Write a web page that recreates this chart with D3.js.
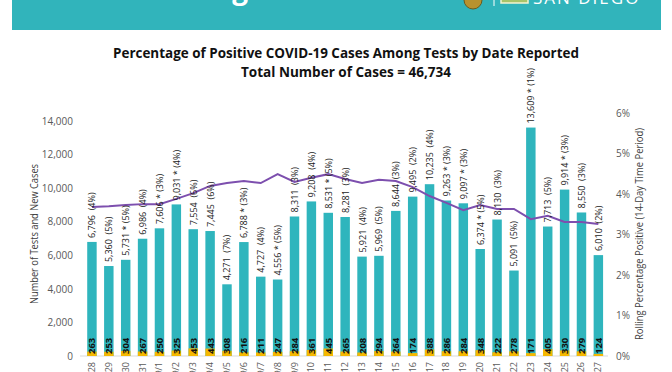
<!DOCTYPE html>
<html>
<head>
<meta charset="utf-8">
<script src="https://cdn.jsdelivr.net/npm/d3@7"></script>
<style>
  body { margin: 0; background: #fff; }
  text { font-family: "Open Sans", "Liberation Sans", sans-serif; }
  .barLabel { white-space: pre; }
</style>
</head>
<body>
<div id="chart"></div>
<script>
// data
var dates = ["8/28","8/29","8/30","8/31","9/1","9/2","9/3","9/4","9/5","9/6","9/7","9/8","9/9","9/10","9/11","9/12",
  "9/13","9/14","9/15","9/16","9/17","9/18","9/19","9/20","9/21","9/22","9/23","9/24","9/25","9/26","9/27"];
var tests = [6796,5360,5731,6986,7606,9031,7554,7445,4271,6788,4727,4556,8311,9208,8531,8281,
  5921,5969,8644,9495,10235,9263,9097,6374,8130,5091,13609,7713,9914,8550,6010];
var cases = [263,253,304,267,250,325,453,443,308,216,211,247,284,361,445,265,
  208,294,264,174,388,286,284,348,222,278,171,405,330,279,124];
var pctLabels = [4,5,5,4,3,4,6,6,7,3,4,5,3,4,5,3,4,5,3,2,4,3,3,5,3,5,1,5,3,3,2];
var starred = [0,0,1,0,1,1,0,0,0,1,0,1,0,0,1,0,0,0,0,0,0,1,1,1,0,0,1,0,1,0,0];
// rolling 14-day percent positive
var rolling = [3.68,3.70,3.73,3.75,3.75,3.88,4.02,4.20,4.27,4.32,4.27,4.49,4.30,4.40,4.49,4.37,
  4.27,4.35,4.32,4.17,3.95,3.78,3.60,3.73,3.63,3.63,3.38,3.46,3.31,3.31,3.26];
var leftTicks = [0,2000,4000,6000,8000,10000,12000,14000];
var rightTicks = [0,1,2,3,4,5,6];

var svgWidth = 672;
var svgHeight = 372;

var svg = d3.select("#chart")
  .append("svg")
  .attr("width", svgWidth)
  .attr("height", svgHeight);

svg.append("rect").attr("width", svgWidth).attr("height", svgHeight).attr("fill", "#fff");

// header band (cut off at top)
svg.append("rect")
  .attr("x", 12).attr("y", 0)
  .attr("width", 649).attr("height", 30)
  .attr("fill", "#31b4bb");
svg.append("text")
  .attr("x", 248).attr("y", -1)
  .attr("text-anchor", "end")
  .attr("fill", "#fff")
  .style("font-size", "28px").style("font-weight", "bold")
  .text("Testing");
svg.append("circle")
  .attr("cx", 473).attr("cy", 0).attr("r", 9)
  .attr("fill", "#b8922e").attr("stroke", "#6b5a1e").attr("stroke-width", 1);
svg.append("line")
  .attr("x1", 494).attr("x2", 494).attr("y1", 0).attr("y2", 6)
  .attr("stroke", "#fff").attr("stroke-width", 1);
svg.append("rect")
  .attr("x", 501).attr("y", -6).attr("width", 27).attr("height", 9)
  .attr("fill", "#a8c46a").attr("stroke", "#f4f4d0").attr("stroke-width", 1.5);
svg.append("text")
  .attr("x", 533).attr("y", 4)
  .attr("fill", "#fff")
  .style("font-size", "17px")
  .style("letter-spacing", "2px")
  .text("SAN DIEGO");

// titles
svg.append("text")
  .attr("x", 346).attr("y", 58)
  .attr("text-anchor", "middle")
  .attr("textLength", 466).attr("lengthAdjust", "spacingAndGlyphs")
  .style("font-size", "14px").style("font-weight", "bold")
  .attr("fill", "#111")
  .text("Percentage of Positive COVID-19 Cases Among Tests by Date Reported");
svg.append("text")
  .attr("x", 346).attr("y", 77)
  .attr("text-anchor", "middle")
  .attr("textLength", 210).attr("lengthAdjust", "spacingAndGlyphs")
  .style("font-size", "14px").style("font-weight", "bold")
  .attr("fill", "#111")
  .text("Total Number of Cases = 46,734");

// scales
var x = d3.scaleBand()
  .domain(dates)
  .range([83.5, 606.8])
  .paddingInner(0.44)
  .paddingOuter(0.22);

var yLeft = d3.scaleLinear().domain([0, 14000]).range([356, 121]);
var yRight = d3.scaleLinear().domain([0, 6]).range([356, 113]);

// axes
var leftAxis = d3.axisLeft(yLeft)
  .tickValues(leftTicks)
  .tickSize(0)
  .tickPadding(0)
  .tickFormat(d3.format(","));
var gLeft = svg.append("g")
  .attr("transform", "translate(73,0)")
  .call(leftAxis);
gLeft.select(".domain").remove();
gLeft.selectAll("text")
  .attr("fill", "#595959")
  .style("font-size", "10px")
  .style("font-family", "'Open Sans', sans-serif");

var rightAxis = d3.axisRight(yRight)
  .tickValues(rightTicks)
  .tickSize(0)
  .tickPadding(0)
  .tickFormat(d => d + "%");
var gRight = svg.append("g")
  .attr("transform", "translate(616,0)")
  .call(rightAxis);
gRight.select(".domain").remove();
gRight.selectAll("text")
  .attr("fill", "#595959")
  .style("font-size", "10px")
  .style("font-family", "'Open Sans', sans-serif");

// baseline
svg.append("line")
  .attr("x1", 80).attr("x2", 608)
  .attr("y1", yLeft(0)).attr("y2", yLeft(0))
  .attr("stroke", "#d9d9d9").attr("stroke-width", 1);

// axis titles
svg.append("text")
  .attr("transform", `translate(38, 234) rotate(-90)`)
  .attr("text-anchor", "middle")
  .attr("fill", "#404040")
  .style("font-size", "10px")
  .attr("textLength", 140).attr("lengthAdjust", "spacingAndGlyphs")
  .text("Number of Tests and New Cases");
svg.append("text")
  .attr("transform", `translate(643, 234) rotate(-90)`)
  .attr("text-anchor", "middle")
  .attr("fill", "#404040")
  .style("font-size", "10px")
  .attr("textLength", 212).attr("lengthAdjust", "spacingAndGlyphs")
  .text("Rolling Percentage Positive (14-Day Time Period)");

var idx = d3.range(dates.length);

// tests bars
svg.append("g").selectAll("rect")
  .data(idx)
  .join("rect")
  .attr("x", i => x(dates[i]))
  .attr("width", x.bandwidth())
  .attr("y", i => yLeft(tests[i]))
  .attr("height", i => yLeft(0) - yLeft(tests[i]))
  .attr("fill", "#2fb5bd");

// new cases bars
svg.append("g").selectAll("rect")
  .data(idx)
  .join("rect")
  .attr("x", i => x(dates[i]))
  .attr("width", x.bandwidth())
  .attr("y", i => yLeft(cases[i]))
  .attr("height", i => yLeft(0) - yLeft(cases[i]))
  .attr("fill", "#f5b800");

// rolling line
var line = d3.line()
  .x(i => x(dates[i]) + x.bandwidth() / 2)
  .y(i => yRight(rolling[i]));
svg.append("path")
  .datum(idx)
  .attr("d", line)
  .attr("fill", "none")
  .attr("stroke", "#7d4fae")
  .attr("stroke-width", 2);

// labels above bars
svg.append("g").selectAll("text")
  .data(idx)
  .join("text")
  .classed("barLabel", true)
  .attr("transform", i => `translate(${x(dates[i]) + x.bandwidth() / 2 + 3.5}, ${yLeft(tests[i]) - 4}) rotate(-90)`)
  .attr("fill", "#1a1a1a")
  .style("font-size", "9px")
  .text(i => d3.format(",")(tests[i]) + (starred[i] ? " * " : "  ") + "(" + pctLabels[i] + "%)");

// case counts at bottom
svg.append("g").selectAll("text")
  .data(idx)
  .join("text")
  .attr("transform", i => `translate(${x(dates[i]) + x.bandwidth() / 2 + 3.5}, ${yLeft(0) - 2}) rotate(-90)`)
  .attr("fill", "#111")
  .style("font-size", "9.5px")
  .style("font-weight", "bold")
  .text(i => cases[i]);

// date labels
svg.append("g").selectAll("text")
  .data(idx)
  .join("text")
  .attr("transform", i => `translate(${x(dates[i]) + x.bandwidth() / 2 + 3}, 362) rotate(-90)`)
  .attr("text-anchor", "end")
  .attr("fill", "#595959")
  .style("font-size", "9px")
  .text(i => dates[i]);
</script>
</body>
</html>
